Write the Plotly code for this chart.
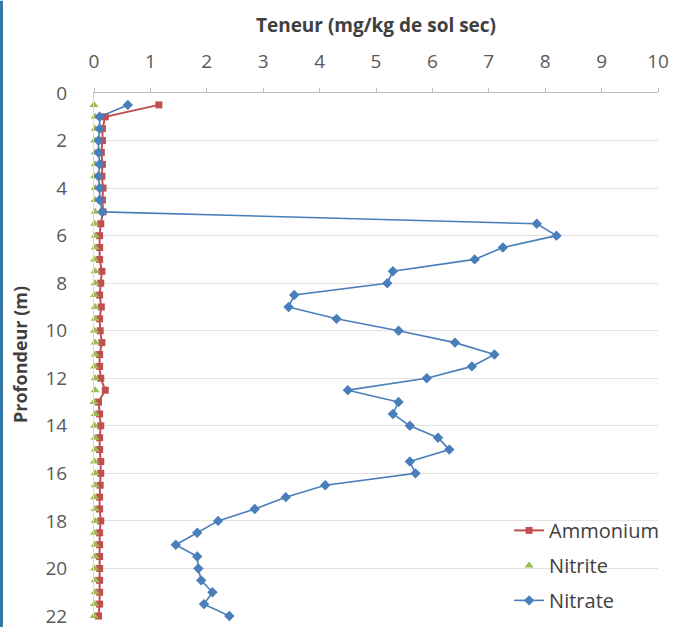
import plotly.graph_objects as go

# profondeur (m)
depth = [0.5, 1, 1.5, 2, 2.5, 3, 3.5, 4, 4.5, 5, 5.5, 6, 6.5, 7, 7.5, 8, 8.5, 9, 9.5, 10,
         10.5, 11, 11.5, 12, 12.5, 13, 13.5, 14, 14.5, 15, 15.5, 16, 16.5, 17, 17.5, 18,
         18.5, 19, 19.5, 20, 20.5, 21, 21.5, 22]

ammonium = [1.15, 0.2, 0.15, 0.15, 0.13, 0.15, 0.14, 0.16, 0.15, 0.16, 0.12, 0.1, 0.1, 0.1,
            0.14, 0.12, 0.1, 0.13, 0.1, 0.11, 0.14, 0.1, 0.1, 0.12, 0.2, 0.08, 0.1, 0.12,
            0.1, 0.1, 0.12, 0.12, 0.11, 0.1, 0.1, 0.12, 0.1, 0.1, 0.1, 0.1, 0.1, 0.1, 0.1, 0.08]

nitrite = [0.0, 0.02, 0.02, 0.01, 0.02, 0.02, 0.01, 0.02, 0.02, 0.02, 0.01, 0.02, 0.02, 0.01,
           0.02, 0.02, 0.01, 0.02, 0.02, 0.01, 0.02, 0.02, 0.01, 0.02, 0.02, 0.0, 0.02, 0.01,
           0.02, 0.02, 0.01, 0.02, 0.02, 0.01, 0.02, 0.02, 0.01, 0.02, 0.02, 0.01, 0.02, 0.02, 0.01, 0.0]

nitrate = [0.6, 0.1, 0.1, 0.08, 0.08, 0.1, 0.08, 0.1, 0.1, 0.15, 7.85, 8.2, 7.25, 6.75, 5.3,
           5.2, 3.55, 3.45, 4.3, 5.4, 6.4, 7.1, 6.7, 5.9, 4.5, 5.4, 5.3, 5.6, 6.1, 6.3, 5.6,
           5.7, 4.1, 3.4, 2.85, 2.2, 1.83, 1.45, 1.83, 1.85, 1.9, 2.1, 1.95, 2.4]

W, H = 681, 631
L, R, T, B = 94, 23, 93, 11
FONT = "Open Sans"

fig = go.Figure()
fig.add_trace(go.Scatter(x=ammonium, y=depth, name="Ammonium", mode="lines+markers",
                         line=dict(color="#C0504D", width=2),
                         marker=dict(symbol="square", size=7, color="#C0504D"),
                         legendgroup="a", cliponaxis=False))
fig.add_trace(go.Scatter(x=nitrite, y=depth, name="Nitrite", mode="markers",
                         marker=dict(symbol="triangle-up", size=8, color="#9BBB59"),
                         legendgroup="b", cliponaxis=False))
fig.add_trace(go.Scatter(x=nitrate, y=depth, name="Nitrate", mode="lines+markers",
                         line=dict(color="#4A7EBB", width=1.6),
                         marker=dict(symbol="diamond", size=8, color="#4A7EBB"),
                         legendgroup="c", cliponaxis=False))

pw = W - L - R
ph = H - T - B
# bande bleue à gauche
fig.add_shape(type="rect", xref="paper", yref="paper",
              x0=-L / pw, x1=(3 - L) / pw, y0=-B / ph, y1=1 + T / ph,
              fillcolor="#3579A8", line=dict(width=0), layer="above")

fig.update_xaxes(side="top", range=[0, 10], dtick=1, showgrid=False, automargin=False,
                 showline=True, linecolor="#BFBFBF", linewidth=1,
                 ticks="outside", ticklen=4, tickcolor="#BFBFBF",
                 ticklabelstandoff=12, zeroline=False,
                 tickfont=dict(family=FONT, size=19, color="#595959"),
                 title=dict(text="<b>Teneur (mg/kg de sol sec)</b>", standoff=10,
                            font=dict(family=FONT, size=19, color="#404040")))
fig.update_yaxes(range=[22, 0], dtick=2, showgrid=True, gridcolor="#E3E3E3", gridwidth=1,
                 showline=True, linecolor="#D9D9D9", zeroline=False, automargin=False,
                 ticks="", ticklabelstandoff=22,
                 tickfont=dict(family=FONT, size=19, color="#595959"),
                 title=dict(text="<b>Profondeur (m)</b>", standoff=13,
                            font=dict(family=FONT, size=18, color="#404040")))

fig.update_layout(width=W, height=H, margin=dict(l=L, r=R, t=T, b=B),
                  paper_bgcolor="white", plot_bgcolor="white",
                  legend=dict(x=0.736, y=0.201, xanchor="left", yanchor="top",
                              traceorder="grouped", tracegroupgap=6,
                              bgcolor="rgba(255,255,255,0)",
                              font=dict(family=FONT, size=20, color="#404040")))

# marge du body à zéro pour que la figure occupe toute la fenêtre
fig.write_html("out.html", config={"displayModeBar": False},
               post_script="document.body.style.margin='0';")
